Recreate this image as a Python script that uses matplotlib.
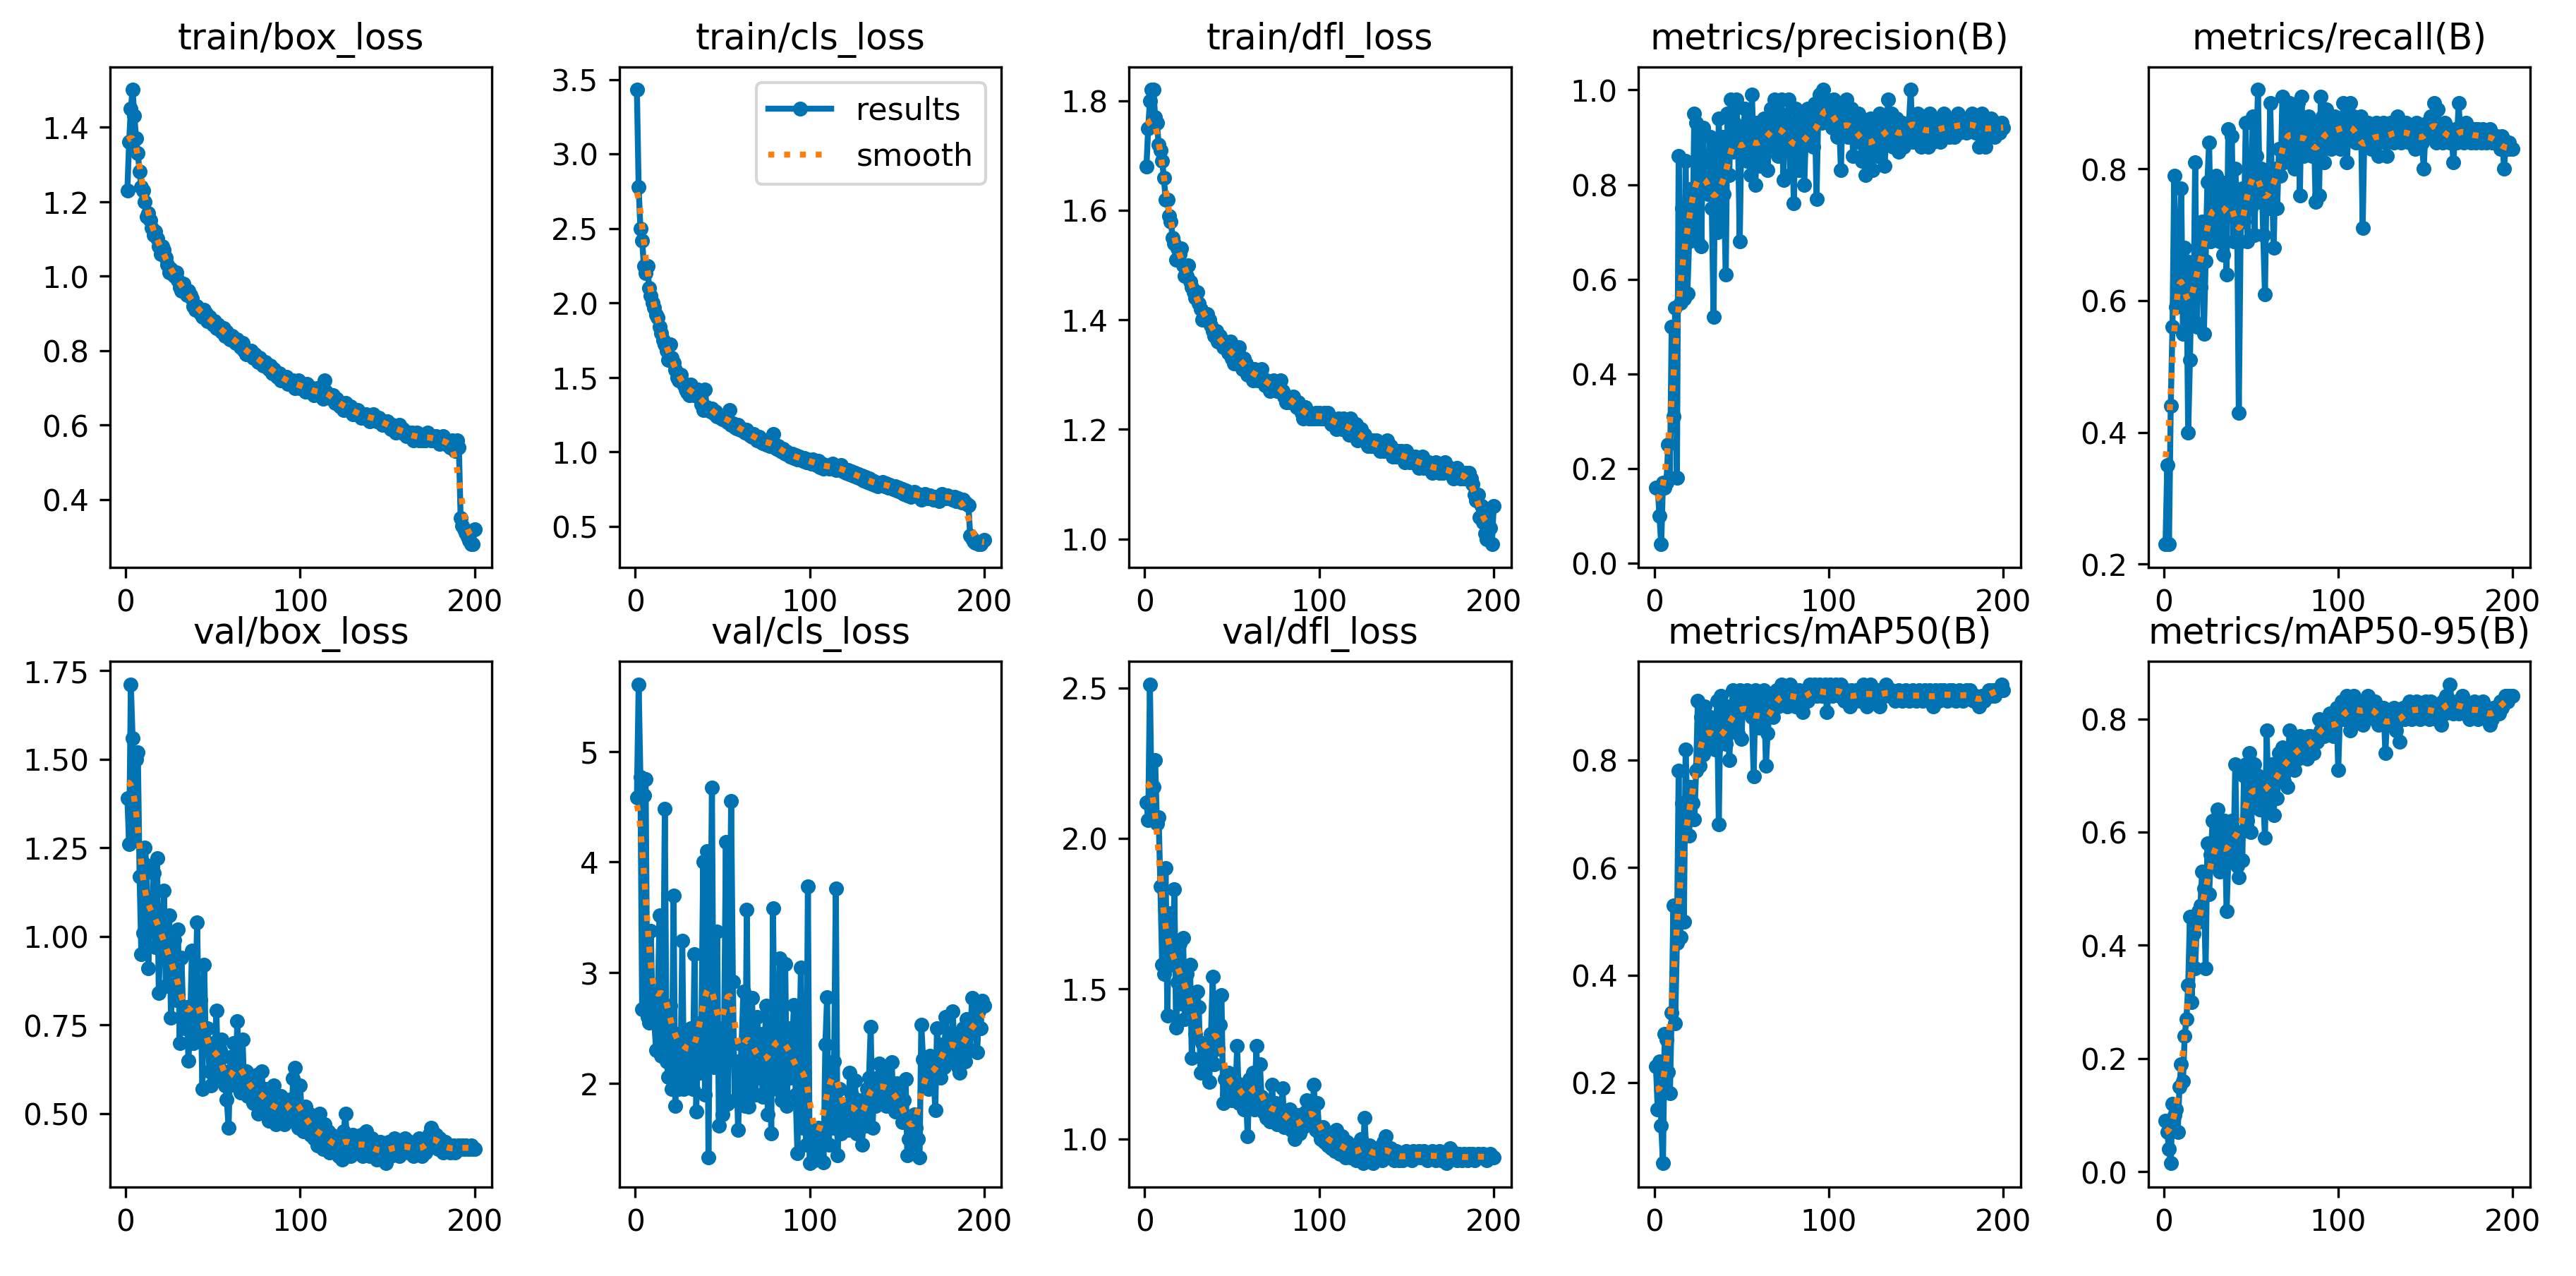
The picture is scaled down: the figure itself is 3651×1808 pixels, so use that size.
import numpy as np
import matplotlib
matplotlib.use("Agg")
import matplotlib.pyplot as plt
from matplotlib.ticker import MultipleLocator

# epochs 1..200
epochs = np.arange(1, 201)

titles = ["train/box_loss", "train/cls_loss", "train/dfl_loss", "metrics/precision(B)", "metrics/recall(B)",
          "val/box_loss", "val/cls_loss", "val/dfl_loss", "metrics/mAP50(B)", "metrics/mAP50-95(B)"]

train_box = [
    1.23, 1.36, 1.45, 1.50, 1.43, 1.37, 1.33, 1.28, 1.24, 1.23,
    1.20, 1.16, 1.17, 1.15, 1.13, 1.11, 1.12, 1.10, 1.08, 1.06,
    1.08, 1.07, 1.05, 1.03, 1.01, 1.02, 1.01, 1.00, 1.01, 0.99,
    0.97, 0.96, 0.98, 0.96, 0.95, 0.96, 0.95, 0.94, 0.92, 0.91,
    0.92, 0.91, 0.90, 0.89, 0.91, 0.90, 0.88, 0.89, 0.88, 0.87,
    0.88, 0.86, 0.87, 0.86, 0.85, 0.86, 0.84, 0.85, 0.84, 0.83,
    0.84, 0.83, 0.82, 0.83, 0.82, 0.81, 0.82, 0.80, 0.79, 0.80,
    0.79, 0.80, 0.78, 0.79, 0.78, 0.77, 0.78, 0.77, 0.76, 0.77,
    0.76, 0.75, 0.76, 0.74, 0.75, 0.74, 0.73, 0.74, 0.72, 0.73,
    0.72, 0.73, 0.71, 0.72, 0.71, 0.72, 0.70, 0.71, 0.72, 0.70,
    0.71, 0.70, 0.69, 0.71, 0.70, 0.69, 0.70, 0.68, 0.69, 0.70,
    0.68, 0.69, 0.67, 0.72, 0.69, 0.68, 0.68, 0.67, 0.68, 0.66,
    0.67, 0.66, 0.65, 0.66, 0.64, 0.66, 0.65, 0.64, 0.65, 0.63,
    0.64, 0.63, 0.64, 0.63, 0.62, 0.63, 0.62, 0.63, 0.62, 0.61,
    0.62, 0.63, 0.62, 0.61, 0.62, 0.61, 0.60, 0.61, 0.60, 0.61,
    0.60, 0.59, 0.60, 0.59, 0.58, 0.59, 0.60, 0.58, 0.59, 0.58,
    0.57, 0.58, 0.57, 0.58, 0.56, 0.57, 0.58, 0.56, 0.57, 0.56,
    0.57, 0.56, 0.58, 0.57, 0.56, 0.57, 0.56, 0.57, 0.56, 0.55,
    0.56, 0.57, 0.55, 0.56, 0.55, 0.54, 0.56, 0.55, 0.53, 0.56,
    0.54, 0.35, 0.33, 0.32, 0.31, 0.30, 0.29, 0.28, 0.28, 0.32,
]

train_cls = [
    3.43, 2.78, 2.50, 2.42, 2.25, 2.20, 2.25, 2.10, 2.05, 2.00,
    1.97, 1.92, 1.90, 1.84, 1.80, 1.75, 1.72, 1.68, 1.62, 1.72,
    1.63, 1.60, 1.55, 1.50, 1.48, 1.52, 1.47, 1.45, 1.42, 1.40,
    1.38, 1.45, 1.40, 1.38, 1.40, 1.42, 1.36, 1.32, 1.28, 1.42,
    1.30, 1.28, 1.27, 1.29, 1.26, 1.27, 1.24, 1.25, 1.23, 1.22,
    1.24, 1.21, 1.20, 1.28, 1.18, 1.19, 1.17, 1.16, 1.18, 1.15,
    1.16, 1.14, 1.13, 1.15, 1.12, 1.11, 1.10, 1.12, 1.09, 1.08,
    1.10, 1.07, 1.06, 1.08, 1.05, 1.07, 1.04, 1.06, 1.12, 1.03,
    1.02, 1.04, 1.01, 1.00, 1.02, 0.99, 1.00, 0.98, 0.97, 0.99,
    0.96, 0.98, 0.95, 0.97, 0.96, 0.94, 0.96, 0.93, 0.95, 0.94,
    0.92, 0.95, 0.93, 0.91, 0.94, 0.90, 0.92, 0.89, 0.91, 0.90,
    0.89, 0.91, 0.92, 0.90, 0.88, 0.90, 0.89, 0.91, 0.87, 0.88,
    0.86, 0.88, 0.85, 0.87, 0.84, 0.86, 0.83, 0.85, 0.82, 0.84,
    0.81, 0.83, 0.80, 0.82, 0.79, 0.81, 0.78, 0.80, 0.77, 0.79,
    0.78, 0.80, 0.77, 0.79, 0.76, 0.78, 0.77, 0.75, 0.77, 0.74,
    0.76, 0.73, 0.75, 0.72, 0.74, 0.71, 0.73, 0.70, 0.72, 0.73,
    0.71, 0.72, 0.70, 0.68, 0.71, 0.72, 0.70, 0.69, 0.71, 0.70,
    0.68, 0.70, 0.69, 0.67, 0.70, 0.72, 0.70, 0.69, 0.71, 0.70,
    0.69, 0.68, 0.70, 0.67, 0.69, 0.68, 0.66, 0.68, 0.66, 0.65,
    0.64, 0.44, 0.42, 0.40, 0.39, 0.39, 0.38, 0.38, 0.40, 0.41,
]

train_dfl = [
    1.68, 1.75, 1.80, 1.82, 1.82, 1.77, 1.76, 1.72, 1.71, 1.69,
    1.66, 1.62, 1.62, 1.59, 1.58, 1.55, 1.54, 1.51, 1.53, 1.52,
    1.53, 1.50, 1.48, 1.48, 1.50, 1.47, 1.46, 1.45, 1.44, 1.45,
    1.43, 1.42, 1.40, 1.41, 1.40, 1.41, 1.40, 1.39, 1.38, 1.37,
    1.38, 1.36, 1.37, 1.36, 1.35, 1.36, 1.35, 1.34, 1.36, 1.33,
    1.32, 1.34, 1.33, 1.35, 1.32, 1.31, 1.33, 1.32, 1.30, 1.31,
    1.30, 1.29, 1.31, 1.30, 1.29, 1.30, 1.31, 1.29, 1.28, 1.29,
    1.28, 1.27, 1.28, 1.29, 1.28, 1.27, 1.28, 1.29, 1.27, 1.26,
    1.25, 1.26, 1.25, 1.25, 1.26, 1.25, 1.24, 1.25, 1.24, 1.23,
    1.22, 1.24, 1.23, 1.22, 1.23, 1.22, 1.22, 1.23, 1.22, 1.23,
    1.22, 1.22, 1.23, 1.22, 1.23, 1.22, 1.21, 1.22, 1.21, 1.20,
    1.22, 1.21, 1.20, 1.22, 1.21, 1.20, 1.19, 1.22, 1.20, 1.19,
    1.21, 1.18, 1.19, 1.20, 1.18, 1.19, 1.18, 1.17, 1.18, 1.17,
    1.18, 1.17, 1.18, 1.17, 1.16, 1.17, 1.16, 1.17, 1.18, 1.16,
    1.17, 1.15, 1.16, 1.15, 1.16, 1.15, 1.16, 1.15, 1.14, 1.16,
    1.15, 1.14, 1.15, 1.14, 1.15, 1.14, 1.13, 1.14, 1.15, 1.13,
    1.14, 1.13, 1.14, 1.13, 1.12, 1.13, 1.14, 1.13, 1.12, 1.13,
    1.12, 1.14, 1.13, 1.12, 1.13, 1.12, 1.11, 1.12, 1.13, 1.12,
    1.11, 1.12, 1.11, 1.12, 1.11, 1.12, 1.11, 1.10, 1.08, 1.07,
    1.08, 1.04, 1.06, 1.03, 1.01, 1.00, 1.05, 1.02, 0.99, 1.06,
]

precision = [
    0.16, 0.16, 0.10, 0.04, 0.17, 0.16, 0.17, 0.25, 0.18, 0.50,
    0.31, 0.54, 0.18, 0.86, 0.55, 0.75, 0.56, 0.85, 0.57, 0.68,
    0.79, 0.70, 0.95, 0.93, 0.68, 0.90, 0.67, 0.92, 0.80, 0.85,
    0.78, 0.90, 0.75, 0.52, 0.88, 0.70, 0.94, 0.72, 0.90, 0.78,
    0.61, 0.95, 0.82, 0.98, 0.87, 0.93, 0.98, 0.90, 0.68, 0.92,
    0.88, 0.96, 0.85, 0.94, 0.82, 0.99, 0.87, 0.80, 0.93, 0.90,
    0.84, 0.92, 0.94, 0.88, 0.83, 0.93, 0.96, 0.88, 0.98, 0.92,
    0.86, 0.95, 0.98, 0.81, 0.94, 0.90, 0.98, 0.82, 0.93, 0.76,
    0.96, 0.90, 0.83, 0.95, 0.88, 0.80, 0.92, 0.96, 0.90, 0.94,
    0.88, 0.97, 0.77, 0.95, 0.99, 0.93, 1.00, 0.96, 0.98, 0.94,
    0.97, 0.92, 0.98, 0.95, 0.90, 0.93, 0.83, 0.97, 0.91, 0.98,
    0.90, 0.94, 0.96, 0.86, 0.93, 0.89, 0.95, 0.91, 0.85, 0.93,
    0.82, 0.92, 0.87, 0.94, 0.83, 0.90, 0.92, 0.86, 0.95, 0.88,
    0.93, 0.84, 0.90, 0.98, 0.92, 0.95, 0.88, 0.91, 0.94, 0.87,
    0.90, 0.93, 0.88, 0.92, 0.90, 0.93, 1.00, 0.89, 0.94, 0.91,
    0.95, 0.92, 0.88, 0.94, 0.90, 0.93, 0.88, 0.95, 0.91, 0.89,
    0.94, 0.90, 0.93, 0.89, 0.92, 0.95, 0.91, 0.93, 0.90, 0.94,
    0.92, 0.90, 0.93, 0.95, 0.91, 0.93, 0.92, 0.94, 0.91, 0.93,
    0.92, 0.95, 0.93, 0.91, 0.94, 0.88, 0.93, 0.95, 0.92, 0.88,
    0.93, 0.91, 0.94, 0.92, 0.90, 0.93, 0.92, 0.91, 0.93, 0.92,
]

recall = [
    0.23, 0.35, 0.23, 0.44, 0.56, 0.79, 0.59, 0.62, 0.67, 0.77,
    0.55, 0.68, 0.66, 0.40, 0.51, 0.64, 0.57, 0.81, 0.56, 0.70,
    0.62, 0.72, 0.55, 0.66, 0.78, 0.84, 0.69, 0.76, 0.70, 0.79,
    0.74, 0.69, 0.78, 0.67, 0.76, 0.64, 0.86, 0.73, 0.85, 0.69,
    0.80, 0.74, 0.43, 0.69, 0.77, 0.72, 0.87, 0.69, 0.80, 0.74,
    0.88, 0.70, 0.82, 0.92, 0.75, 0.80, 0.70, 0.61, 0.79, 0.74,
    0.90, 0.78, 0.68, 0.80, 0.74, 0.83, 0.79, 0.91, 0.81, 0.88,
    0.84, 0.90, 0.82, 0.88, 0.80, 0.86, 0.90, 0.76, 0.91, 0.82,
    0.86, 0.83, 0.88, 0.84, 0.82, 0.87, 0.75, 0.85, 0.76, 0.91,
    0.88, 0.81, 0.89, 0.84, 0.87, 0.83, 0.86, 0.88, 0.85, 0.87,
    0.83, 0.86, 0.90, 0.88, 0.81, 0.87, 0.90, 0.85, 0.88, 0.84,
    0.87, 0.85, 0.88, 0.71, 0.86, 0.84, 0.87, 0.85, 0.83, 0.86,
    0.84, 0.87, 0.82, 0.86, 0.85, 0.87, 0.84, 0.82, 0.86, 0.87,
    0.85, 0.84, 0.86, 0.88, 0.85, 0.84, 0.86, 0.85, 0.87, 0.86,
    0.84, 0.86, 0.85, 0.83, 0.87, 0.85, 0.86, 0.84, 0.80, 0.86,
    0.87, 0.85, 0.88, 0.86, 0.90, 0.84, 0.89, 0.85, 0.86, 0.84,
    0.87, 0.85, 0.86, 0.84, 0.85, 0.81, 0.86, 0.84, 0.90, 0.85,
    0.86, 0.84, 0.87, 0.85, 0.86, 0.84, 0.85, 0.86, 0.84, 0.86,
    0.85, 0.84, 0.86, 0.85, 0.84, 0.85, 0.86, 0.84, 0.85, 0.84,
    0.85, 0.84, 0.83, 0.85, 0.80, 0.84, 0.83, 0.84, 0.83, 0.83,
]

val_box = [
    1.39, 1.26, 1.71, 1.56, 1.27, 1.50, 1.52, 1.17, 0.95, 1.01,
    1.25, 1.20, 0.91, 1.10, 1.02, 1.18, 0.97, 1.22, 0.84, 1.05,
    0.96, 1.13, 0.86, 0.98, 1.06, 0.77, 0.90, 0.99, 0.82, 1.02,
    0.70, 0.94, 0.78, 0.74, 0.80, 0.65, 0.76, 0.96, 0.70, 0.85,
    1.04, 0.72, 0.82, 0.57, 0.92, 0.68, 0.74, 0.62, 0.58, 0.70,
    0.66, 0.79, 0.60, 0.68, 0.71, 0.62, 0.58, 0.54, 0.46, 0.66,
    0.60, 0.70, 0.58, 0.76, 0.61, 0.56, 0.71, 0.57, 0.62, 0.55,
    0.58, 0.60, 0.53, 0.56, 0.61, 0.50, 0.55, 0.62, 0.53, 0.57,
    0.52, 0.48, 0.55, 0.50, 0.58, 0.47, 0.53, 0.49, 0.55, 0.50,
    0.47, 0.52, 0.49, 0.54, 0.48, 0.60, 0.63, 0.51, 0.46, 0.58,
    0.49, 0.45, 0.52, 0.47, 0.50, 0.44, 0.48, 0.43, 0.46, 0.41,
    0.50, 0.44, 0.40, 0.47, 0.42, 0.45, 0.39, 0.44, 0.41, 0.40,
    0.43, 0.38, 0.41, 0.37, 0.45, 0.50, 0.40, 0.42, 0.38, 0.44,
    0.41, 0.39, 0.43, 0.40, 0.44, 0.38, 0.42, 0.45, 0.40, 0.38,
    0.43, 0.39, 0.41, 0.37, 0.40, 0.42, 0.38, 0.41, 0.36, 0.40,
    0.42, 0.38, 0.41, 0.43, 0.39, 0.41, 0.38, 0.42, 0.40, 0.43,
    0.41, 0.39, 0.42, 0.40, 0.38, 0.41, 0.39, 0.43, 0.40, 0.38,
    0.41, 0.39, 0.40, 0.44, 0.46, 0.45, 0.42, 0.44, 0.40, 0.43,
    0.41, 0.39, 0.42, 0.40, 0.41, 0.39, 0.40, 0.41, 0.39, 0.40,
    0.41, 0.40, 0.41, 0.40, 0.41, 0.40, 0.40, 0.41, 0.40, 0.40,
]

val_cls = [
    4.58, 5.60, 4.77, 2.67, 4.60, 4.75, 2.60, 2.55, 3.38, 2.60,
    2.55, 2.30, 2.80, 3.52, 2.25, 2.60, 4.48, 2.20, 2.06, 2.70,
    1.95, 3.70, 1.80, 2.45, 1.95, 2.10, 3.29, 1.95, 2.40, 2.20,
    2.05, 2.50, 1.95, 3.17, 1.75, 2.30, 2.10, 2.55, 4.00, 1.90,
    4.10, 1.33, 3.00, 4.67, 2.15, 2.40, 3.37, 1.62, 2.50, 1.72,
    2.50, 4.18, 1.82, 2.90, 4.55, 2.92, 1.85, 2.20, 1.58, 2.05,
    2.35, 2.83, 1.80, 3.57, 1.79, 2.40, 2.77, 2.10, 1.90, 2.60,
    2.05, 2.45, 1.88, 2.20, 2.70, 1.72, 2.35, 1.55, 3.58, 2.10,
    1.95, 2.40, 3.13, 1.85, 2.20, 3.08, 1.80, 2.50, 2.05, 2.35,
    2.71, 1.90, 1.37, 2.20, 3.05, 1.60, 2.10, 1.45, 3.78, 1.28,
    1.45, 1.30, 1.55, 1.38, 1.60, 1.32, 1.48, 1.29, 2.35, 2.78,
    1.45, 1.90, 1.60, 2.20, 3.76, 1.35, 1.95, 1.55, 1.80, 1.62,
    1.75, 1.58, 2.10, 1.90, 1.65, 2.03, 1.55, 1.85, 1.60, 1.45,
    1.70, 1.62, 1.95, 2.05, 2.51, 1.60, 1.95, 1.80, 2.05, 2.18,
    1.85, 1.95, 2.15, 1.80, 1.95, 1.90, 2.19, 1.85, 1.75, 2.00,
    1.75, 1.90, 1.65, 1.85, 2.04, 1.35, 1.50, 1.65, 1.45, 1.72,
    1.60, 1.50, 1.33, 2.53, 2.22, 2.05, 2.15, 1.95, 2.25, 2.05,
    2.10, 1.76, 2.50, 2.20, 2.05, 2.35, 2.15, 2.60, 2.25, 2.40,
    2.20, 2.65, 2.30, 2.45, 2.15, 2.10, 2.35, 2.50, 2.20, 2.58,
    2.45, 2.30, 2.77, 2.55, 2.60, 2.28, 2.65, 2.50, 2.75, 2.70,
]

val_dfl = [
    2.12, 2.06, 2.51, 2.10, 2.17, 2.26, 2.05, 2.07, 1.84, 1.58,
    1.55, 1.90, 1.41, 1.75, 1.62, 1.58, 1.83, 1.37, 1.52, 1.65,
    1.45, 1.67, 1.40, 1.55, 1.48, 1.58, 1.27, 1.42, 1.35, 1.49,
    1.44, 1.22, 1.32, 1.28, 1.25, 1.30, 1.19, 1.35, 1.54, 1.25,
    1.45, 1.30, 1.38, 1.48, 1.12, 1.20, 1.15, 1.22, 1.18, 1.13,
    1.20, 1.15, 1.31, 1.12, 1.18, 1.14, 1.10, 1.16, 1.01, 1.20,
    1.15, 1.22, 1.10, 1.31, 1.12, 1.25, 1.14, 1.09, 1.12, 1.07,
    1.10, 1.06, 1.18, 1.08, 1.12, 1.05, 1.10, 1.07, 1.17, 1.04,
    1.08, 1.05, 1.10, 1.03, 1.07, 1.00, 1.05, 1.08, 1.02, 1.06,
    1.04, 1.09, 1.13, 1.05, 1.10, 1.07, 1.18, 1.03, 1.12, 1.02,
    1.00, 1.04, 0.99, 1.02, 0.98, 1.01, 0.97, 1.00, 0.96, 1.03,
    0.98, 0.95, 1.01, 0.97, 0.94, 0.99, 0.96, 0.94, 0.98, 0.95,
    0.93, 0.97, 0.94, 1.00, 0.92, 1.07, 0.96, 0.94, 0.98, 0.95,
    0.92, 0.95, 0.97, 0.94, 0.96, 0.93, 0.99, 1.01, 0.96, 0.94,
    0.97, 0.95, 0.93, 0.96, 0.94, 0.93, 0.95, 0.93, 0.94, 0.96,
    0.94, 0.95, 0.93, 0.96, 0.94, 0.95, 0.96, 0.94, 0.95, 0.96,
    0.94, 0.93, 0.95, 0.94, 0.96, 0.95, 0.93, 0.94, 0.96, 0.93,
    0.95, 0.94, 0.92, 0.95, 0.97, 0.96, 0.94, 0.95, 0.93, 0.95,
    0.94, 0.93, 0.95, 0.94, 0.93, 0.95, 0.94, 0.95, 0.93, 0.94,
    0.95, 0.94, 0.94, 0.95, 0.94, 0.93, 0.94, 0.95, 0.94, 0.94,
]

map50 = [
    0.23, 0.15, 0.24, 0.12, 0.05, 0.29, 0.28, 0.22, 0.18, 0.33,
    0.53, 0.31, 0.46, 0.78, 0.47, 0.72, 0.50, 0.82, 0.70, 0.66,
    0.75, 0.72, 0.69, 0.78, 0.91, 0.79, 0.88, 0.81, 0.90, 0.84,
    0.83, 0.88, 0.85, 0.87, 0.82, 0.91, 0.68, 0.92, 0.84, 0.88,
    0.83, 0.90, 0.80, 0.87, 0.93, 0.89, 0.92, 0.85, 0.93, 0.84,
    0.92, 0.89, 0.93, 0.90, 0.92, 0.88, 0.77, 0.93, 0.90, 0.86,
    0.92, 0.88, 0.93, 0.79, 0.85, 0.89, 0.92, 0.88, 0.91, 0.93,
    0.90, 0.92, 0.94, 0.91, 0.93, 0.90, 0.92, 0.94, 0.91, 0.93,
    0.90, 0.92, 0.93, 0.91, 0.89, 0.92, 0.93, 0.91, 0.94, 0.92,
    0.93, 0.94, 0.92, 0.93, 0.94, 0.92, 0.93, 0.94, 0.89, 0.93,
    0.94, 0.92, 0.93, 0.94, 0.93, 0.92, 0.94, 0.93, 0.91, 0.93,
    0.92, 0.90, 0.93, 0.91, 0.92, 0.93, 0.92, 0.91, 0.93, 0.94,
    0.92, 0.90, 0.93, 0.94, 0.91, 0.93, 0.92, 0.93, 0.90, 0.92,
    0.93, 0.92, 0.94, 0.93, 0.92, 0.93, 0.92, 0.91, 0.92, 0.93,
    0.92, 0.91, 0.92, 0.93, 0.92, 0.91, 0.92, 0.93, 0.92, 0.91,
    0.92, 0.93, 0.92, 0.91, 0.93, 0.92, 0.91, 0.93, 0.92, 0.90,
    0.93, 0.92, 0.91, 0.93, 0.92, 0.93, 0.92, 0.91, 0.93, 0.92,
    0.93, 0.92, 0.91, 0.92, 0.93, 0.92, 0.91, 0.92, 0.93, 0.92,
    0.93, 0.92, 0.91, 0.92, 0.91, 0.90, 0.91, 0.92, 0.91, 0.92,
    0.92, 0.93, 0.92, 0.93, 0.92, 0.93, 0.93, 0.93, 0.94, 0.93,
]

map50_95 = [
    0.09, 0.07, 0.04, 0.015, 0.12, 0.10, 0.11, 0.07, 0.15, 0.19,
    0.16, 0.24, 0.27, 0.33, 0.45, 0.30, 0.42, 0.36, 0.44, 0.46,
    0.47, 0.53, 0.50, 0.36, 0.58, 0.49, 0.56, 0.62, 0.55, 0.60,
    0.64, 0.53, 0.58, 0.57, 0.62, 0.46, 0.55, 0.60, 0.62, 0.56,
    0.72, 0.54, 0.52, 0.60, 0.55, 0.70, 0.72, 0.62, 0.74, 0.60,
    0.68, 0.72, 0.66, 0.70, 0.64, 0.68, 0.66, 0.59, 0.78, 0.65,
    0.70, 0.72, 0.63, 0.70, 0.66, 0.74, 0.71, 0.75, 0.69, 0.73,
    0.68, 0.78, 0.72, 0.75, 0.71, 0.76, 0.73, 0.77, 0.75, 0.74,
    0.76, 0.73, 0.77, 0.77, 0.75, 0.74, 0.77, 0.76, 0.80, 0.78,
    0.79, 0.77, 0.80, 0.78, 0.81, 0.79, 0.77, 0.80, 0.82, 0.71,
    0.81, 0.83, 0.80, 0.82, 0.84, 0.81, 0.78, 0.83, 0.84, 0.82,
    0.80, 0.83, 0.81, 0.79, 0.82, 0.80, 0.84, 0.83, 0.81, 0.82,
    0.83, 0.80, 0.79, 0.81, 0.80, 0.82, 0.74, 0.80, 0.79, 0.81,
    0.80, 0.82, 0.78, 0.80, 0.76, 0.81, 0.82, 0.80, 0.82, 0.81,
    0.83, 0.80, 0.82, 0.81, 0.83, 0.82, 0.80, 0.82, 0.81, 0.83,
    0.82, 0.80, 0.83, 0.81, 0.82, 0.80, 0.81, 0.82, 0.79, 0.83,
    0.81, 0.84, 0.82, 0.86, 0.83, 0.81, 0.82, 0.83, 0.81, 0.82,
    0.84, 0.83, 0.81, 0.82, 0.80, 0.82, 0.81, 0.83, 0.82, 0.80,
    0.82, 0.81, 0.83, 0.82, 0.80, 0.81, 0.79, 0.80, 0.82, 0.81,
    0.82, 0.81, 0.83, 0.82, 0.83, 0.84, 0.83, 0.84, 0.84, 0.84,
]

series = [train_box, train_cls, train_dfl, precision, recall,
          val_box, val_cls, val_dfl, map50, map50_95]

# y tick spacing used on each panel of the original
ytick_steps = [0.2, 0.5, 0.2, 0.2, 0.2, 0.25, 1, 0.5, 0.2, 0.2]


def gaussian_smooth(y, sigma=3):
    # same as scipy's gaussian_filter1d with the default reflect mode
    radius = int(4 * sigma + 0.5)
    k = np.arange(-radius, radius + 1)
    w = np.exp(-0.5 * (k / sigma) ** 2)
    w /= w.sum()
    padded = np.pad(np.asarray(y, dtype=float), radius, mode='symmetric')
    return np.convolve(padded, w, mode='valid')


plt.rcParams['legend.fontsize'] = 10.5

dpi = 304
fig = plt.figure(figsize=(3651.3 / dpi, 1808.3 / dpi))
gs = fig.add_gridspec(2, 5, left=0.0427, right=0.9821, top=0.9472, bottom=0.0696,
                      wspace=0.334, hspace=0.183, height_ratios=[304, 320])
axes = [fig.add_subplot(gs[r, c]) for r in range(2) for c in range(5)]

for ax, title, y, step in zip(axes, titles, series, ytick_steps):
    y = np.asarray(y, dtype=float)
    ax.plot(epochs, y, marker='.', label='results', linewidth=2, markersize=8, color='#0173B2')
    ax.plot(epochs, gaussian_smooth(y), ':', label='smooth', linewidth=2, color='#FF7F0E')
    ax.set_title(title, fontsize=12)
    ax.set_xticks([0, 100, 200])
    ax.yaxis.set_major_locator(MultipleLocator(step))

axes[1].legend()
fig.savefig('out.png', dpi=dpi)
